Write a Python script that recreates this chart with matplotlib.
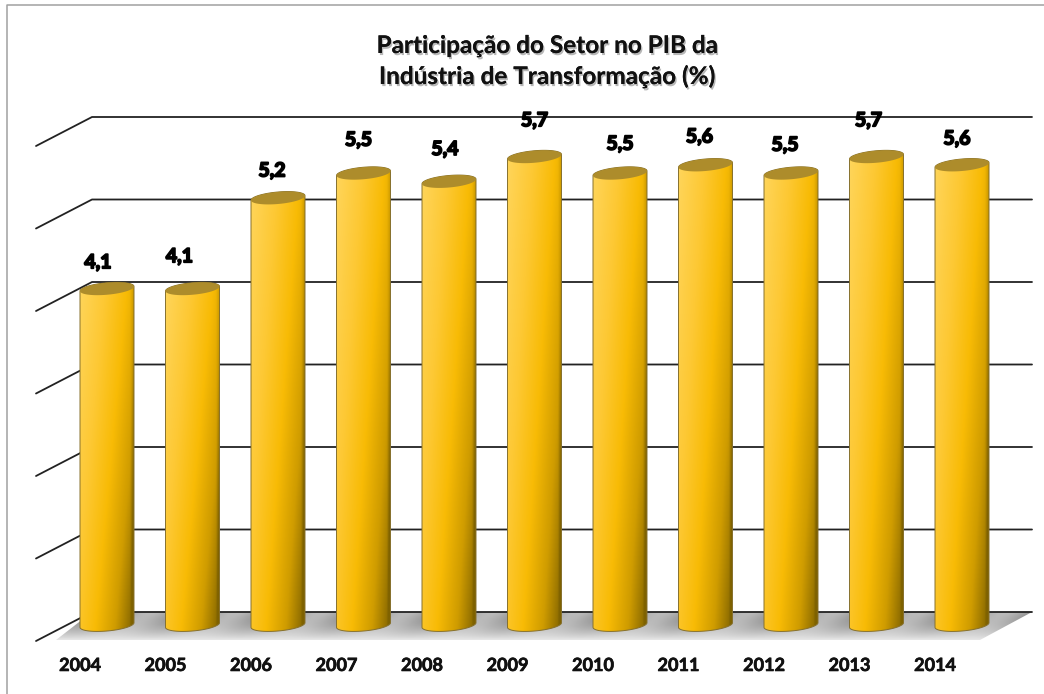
import numpy as np
import matplotlib
matplotlib.use('Agg')
import matplotlib.pyplot as plt
import matplotlib.patheffects as pe
from matplotlib.colors import LinearSegmentedColormap
from matplotlib.lines import Line2D
from matplotlib.patches import PathPatch
from matplotlib.path import Path

years = ['2004', '2005', '2006', '2007', '2008', '2009', '2010', '2011', '2012', '2013', '2014']
values = [4.1, 4.1, 5.2, 5.5, 5.4, 5.7, 5.5, 5.6, 5.5, 5.7, 5.6]
labels = ['4,1', '4,1', '5,2', '5,5', '5,4', '5,7', '5,5', '5,6', '5,5', '5,7', '5,6']
grid_values = [0, 1, 2, 3, 4, 5, 6]
title = 'Participação do Setor no PIB da\nIndústria de Transformação (%)'

# label nudges in pixels, the original labels are not centred on the bars
label_dx = [-9, -13, -6, -5, -4, 0, 0, -6, -6, -8, -5]
label_dy = [24, 30, 25, 31, 30, 34, 27, 26, 26, 34, 24]

W, H = 1044, 694
STEP_PX = 85.5     # px per category
UNIT_PX = 82.5     # px per value unit
X0_PX = 107        # centre of first bar
Y0_PX = 625        # centre of bar base
BOTTOM_PX = 650    # bottom of the axes

fig = plt.figure(figsize=(W / 100, H / 100), dpi=100, facecolor='white')
ax = fig.add_axes([0, (H - BOTTOM_PX) / H, 1, BOTTOM_PX / H])
ax.set_facecolor('none')
xlim = (-X0_PX / STEP_PX, (W - X0_PX) / STEP_PX)
ylim = ((Y0_PX - BOTTOM_PX) / UNIT_PX, Y0_PX / UNIT_PX)


def px_x(px):
    return (px - X0_PX) / STEP_PX


def px_h(px):
    return px / UNIT_PX


# back wall lines and their slanted side parts
wall_base = px_h(13)
side_rise = px_h(29)
wall_left = px_x(92)
wall_right = px_x(1032)
front_left = px_x(36)
for v in grid_values:
    y = v + wall_base
    ax.plot([front_left, wall_left, wall_right], [y - side_rise, y, y],
            color='#222222', lw=1.3, solid_capstyle='round', zorder=2)

# floor
floor_front = -px_h(15)
floor_path = Path([(px_x(56), floor_front), (wall_left, wall_base), (wall_right, wall_base),
                   (px_x(980), floor_front), (px_x(56), floor_front)], closed=True)
fx, fy = np.meshgrid(np.linspace(px_x(40), wall_right, 1000), np.linspace(wall_base, floor_front, 30))
depth = (wall_base - fy) / (wall_base - floor_front)
stripes = 0.5 + 0.5 * np.cos(2 * np.pi * (fx + 0.5 + 0.5 * depth))
shade = 0.52 + 0.38 * depth ** 1.6 + 0.22 * stripes * (1 - depth)
floor_im = ax.imshow(shade, cmap='gray', vmin=0, vmax=1, aspect='auto', zorder=1,
                     extent=(px_x(40), wall_right, floor_front, wall_base), interpolation='bilinear')
floor_patch = PathPatch(floor_path, fc='none', ec='none', transform=ax.transData)
ax.add_patch(floor_patch)
floor_im.set_clip_path(floor_patch)

# cylinders
half_w = 27 / STEP_PX
ell_h = px_h(6)
slant = px_h(2.3)
top_drop = px_h(2)
gold = LinearSegmentedColormap.from_list('gold', [
    (0.0, '#FFD55A'), (0.3, '#FDC833'), (0.55, '#F8BB05'),
    (0.78, '#CF9C00'), (1.0, '#7F6200')])
theta = np.linspace(0, np.pi, 60)
for i, v in enumerate(values):
    top = v - top_drop
    # outline: top edge follows the back of the top ellipse, bottom the front of the base ellipse
    top_x = i + half_w * np.cos(theta)
    top_y = top + ell_h * np.sin(theta) + slant * np.cos(theta)
    bot_x = i + half_w * np.cos(theta + np.pi)
    bot_y = ell_h * np.sin(theta + np.pi) + slant * np.cos(theta + np.pi)
    outline = np.column_stack([np.r_[top_x, bot_x, top_x[0]], np.r_[top_y, bot_y, top_y[0]]])
    u, w = np.meshgrid(np.linspace(0, 1, 80), np.linspace(0, 1, 200))
    grad = 0.62 * u + 0.38 * w
    grad = grad + 0.16 * np.clip((u - 0.93) / 0.07, 0, 1)
    ymin, ymax = -ell_h - slant, top + ell_h + slant
    im = ax.imshow(grad, cmap=gold, vmin=0, vmax=1, aspect='auto', zorder=3 + i,
                   extent=(i - half_w, i + half_w, ymin, ymax), interpolation='bilinear')
    patch = PathPatch(Path(outline, closed=False), fc='none', ec='#86702c', lw=0.7, zorder=3 + i)
    ax.add_patch(patch)
    im.set_clip_path(patch)
    # top face
    top_theta = np.linspace(0, 2 * np.pi, 80)
    ax.fill(i + half_w * np.cos(top_theta),
            top + ell_h * np.sin(top_theta) + slant * np.cos(top_theta),
            color='#AD8C2B', lw=0, zorder=3.5 + i)

    ax.annotate(labels[i], (i, v), xytext=(label_dx[i], label_dy[i]), textcoords='offset pixels',
                ha='center', va='center', family='Lato', weight='bold', fontsize=14, color='black',
                zorder=30, path_effects=[pe.withStroke(linewidth=1.3, foreground='black')])

ax.set_xlim(xlim)
ax.set_ylim(ylim)
ax.set_yticks([])
ax.set_xticks(np.arange(len(years)) - half_w, years, family='Lato', weight='bold', fontsize=13, color='#111111')
ax.tick_params(axis='x', length=0, pad=5)
for tick_label in ax.get_xticklabels():
    tick_label.set_path_effects([pe.withStroke(linewidth=0.5, foreground='#111111')])
for s in ax.spines.values():
    s.set_visible(False)

ax.text(px_x(547), (Y0_PX - 61) / UNIT_PX, title, ha='center', va='center', family='Lato', weight='bold',
        fontsize=17.5, color='#111111', linespacing=1.38, zorder=30,
        path_effects=[pe.withSimplePatchShadow(offset=(1, -1.5), shadow_rgbFace='#888888', alpha=0.6), pe.Normal()])

# picture frame, only top and left
fig.add_artist(Line2D([7 / W, 7 / W, 1], [0, 1 - 4.5 / H, 1 - 4.5 / H], color='#a0a0a0', lw=1.1))

fig.savefig('out.png', dpi=100)
